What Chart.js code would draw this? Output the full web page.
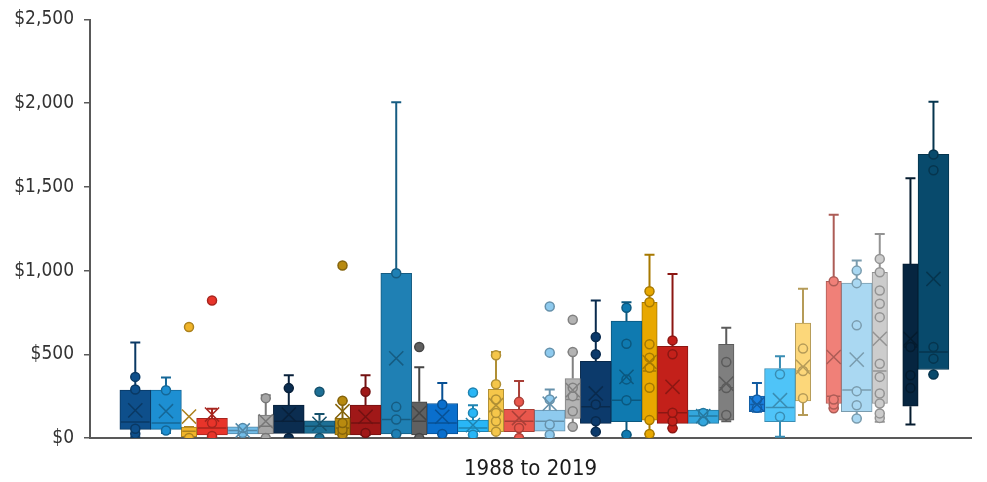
<!DOCTYPE html>
<html lang="en">
<head>
<meta charset="UTF-8">
<title>1988 to 2019</title>
<script src="https://cdn.jsdelivr.net/npm/chart.js"></script>
<style>
    body {
        margin: 0;
        background: #fff;
    }

    .wrap {
        width: 987px;
        height: 482px;
    }
</style>
</head>
<body>
<div class="wrap"><canvas id="boxChart"></canvas></div>
<script>
// one category on the x axis, y ticks in dollars
var categories = ['1988 to 2019'];
var yTicks = [0, 500, 1000, 1500, 2000, 2500];

// box summaries, one entry per series
var mins    = [5, 30, 0, 10, 24, 0, 0, 0, 18, 18, 24, 0, 24, 20, 38, 0, 0, 67, 38, 20, 24, 58, 87, 100, 157, 8, 137, 177, 117, 97, 81, 379];
var q1s     = [52, 52, 8, 18, 24, 24, 28, 28, 18, 18, 24, 18, 24, 38, 38, 38, 41, 117, 87, 97, 107, 87, 87, 107, 157, 97, 222, 206, 157, 206, 190, 409];
var medians = [95, 90, 40, 60, 45, 70, 100, 70, 60, 90, 111, 100, 90, 60, 160, 100, 100, 230, 186, 226, 400, 151, 131, 300, 200, 182, 400, 250, 286, 400, 544, 514];
var q3s     = [286, 286, 65, 117, 67, 137, 196, 103, 119, 196, 984, 216, 206, 107, 290, 171, 167, 355, 458, 698, 811, 548, 167, 560, 250, 415, 686, 936, 925, 990, 1040, 1694];
var maxs    = [570, 361, 65, 175, 67, 256, 375, 143, 222, 375, 2006, 423, 329, 196, 514, 341, 290, 514, 821, 811, 1095, 980, 167, 659, 329, 488, 891, 1333, 1060, 1218, 1552, 2008];
var means   = [165, 160, 128, 140, 45, 100, 140, 85, 160, 127, 476, 149, 127, 77, 196, 119, 205, 286, 266, 365, 454, 306, 131, 325, 200, 226, 425, 484, 468, 593, 593, 950];
var points  = [
    [25, 55, 290, 365], [45, 285], [0, 663], [12, 89, 821], [30, 60], [0, 238],
    [0, 298], [0, 276], [20, 50, 90, 222, 1030], [30, 276], [24, 111, 186, 984], [0, 544],
    [24, 200], [20, 150, 272], [38, 100, 150, 230, 321, 494], [0, 60, 216], [20, 80, 230, 510, 786], [67, 160, 250, 300, 514, 706],
    [38, 100, 200, 500, 603], [20, 226, 350, 563, 778], [24, 107, 300, 420, 480, 560, 811, 877], [58, 100, 151, 500, 583], [100, 150], [137, 298, 454],
    [180, 230], [127, 381], [238, 400, 534], [177, 200, 230, 936], [117, 196, 280, 673, 925, 1000], [120, 147, 206, 266, 365, 444, 722, 802, 881, 990, 1070],
    [298, 375, 544], [379, 474, 544, 1599, 1694]
];

// look of each box: colour and how many slots wide it is
var colors = ['#0e4f8b', '#1d8fd2', '#f0b429', '#e8342a', '#73bde8', '#a5a5a5',
    '#0b2d50', '#1d6f95', '#b88a0f', '#a01818', '#1f80b4', '#606060',
    '#0a6fcd', '#29b6f6', '#f5c64a', '#e9574c', '#8ecaee', '#b3b3b3',
    '#0c3a6b', '#0f7ab0', '#e8a800', '#c3201a', '#33a6dd', '#7f7f7f',
    '#1a80e0', '#4fc4f8', '#fcd77a', '#f08078', '#aad8f2', '#cccccc',
    '#062540', '#084a6c'];
var slotSpans = [2, 2, 1, 2, 2, 1, 2, 2, 1, 2, 2, 1, 2, 2, 1, 2, 2, 1, 2, 2, 1, 2, 2, 1,
    1, 2, 1, 1, 2, 1, 1, 2];
var gapBefore = [24, 27, 30];

var xMin = -1.95, xMax = 55.45;
var slotPx = 885 / (xMax - xMin);
var font = "'DejaVu Sans Condensed', 'Liberation Sans', sans-serif";

function shade(hex, f) {
    var n = parseInt(hex.slice(1), 16);
    var r = Math.round((n >> 16) * f), g = Math.round(((n >> 8) & 255) * f), b = Math.round((n & 255) * f);
    return 'rgb(' + r + ',' + g + ',' + b + ')';
}

var datasets = [];
var slot = 0;
for (var i = 0; i < mins.length; i++) {
    if (gapBefore.indexOf(i) >= 0) slot += 1;
    var c = slot + slotSpans[i] / 2;
    slot += slotSpans[i];
    var col = colors[i];
    var dark = shade(col, 0.72);
    var w = slotSpans[i] * slotPx;

    datasets.push({
        type: 'bar', label: 'Series ' + (i + 1),
        data: [{x: c, y: [q1s[i], q3s[i]]}],
        backgroundColor: col, borderColor: dark, borderWidth: 1, borderSkipped: false,
        barThickness: w, grouped: false, order: 3
    });
    // whiskers with caps
    datasets.push({
        type: 'line', data: [{x: c, y: q3s[i]}, {x: c, y: maxs[i]}],
        borderColor: dark, borderWidth: 2, pointStyle: 'line', pointRadius: [0, 5],
        pointBorderColor: dark, pointBorderWidth: 2, order: 4
    });
    datasets.push({
        type: 'line', data: [{x: c, y: q1s[i]}, {x: c, y: mins[i]}],
        borderColor: dark, borderWidth: 2, pointStyle: 'line', pointRadius: [0, 5],
        pointBorderColor: dark, pointBorderWidth: 2, order: 4
    });
    // median line
    datasets.push({
        type: 'scatter', data: [{x: c, y: medians[i]}],
        pointStyle: 'line', pointRadius: w / 2 - 1, pointBorderColor: dark, pointBorderWidth: 1.5, order: 2
    });
    // data points
    datasets.push({
        type: 'scatter', data: points[i].map(function (v) { return {x: c, y: v}; }),
        pointStyle: 'circle', pointRadius: 4.5, pointBackgroundColor: col,
        pointBorderColor: dark, pointBorderWidth: 1.5, order: 1
    });
    // mean marker
    datasets.push({
        type: 'scatter', data: [{x: c, y: means[i]}],
        pointStyle: 'crossRot', pointRadius: 10, pointBorderColor: dark, pointBorderWidth: 1.5, order: 0
    });
}

new Chart(document.getElementById('boxChart'), {
    type: 'bar',
    data: {datasets: datasets},
    options: {
        responsive: true,
        maintainAspectRatio: false,
        animation: false,
        layout: {padding: {top: 18, right: 12, bottom: 0, left: 0}},
        plugins: {legend: {display: false}, tooltip: {enabled: false}},
        scales: {
            x: {
                type: 'linear', min: xMin, max: xMax, offset: false,
                ticks: {display: false},
                grid: {display: false},
                border: {display: true, color: '#595959', width: 2},
                title: {display: true, text: categories[0], color: '#1a1a1a',
                    font: {family: font, size: 22}, padding: {top: 18, bottom: 0}},
                afterFit: function (s) { s.height = 44; }
            },
            y: {
                min: 0, max: 2500,
                afterBuildTicks: function (s) { s.ticks = yTicks.map(function (v) { return {value: v}; }); },
                ticks: {
                    color: '#333', padding: 10,
                    font: {family: font, size: 19, lineHeight: 1},
                    callback: function (v) { return '$' + v.toLocaleString('en-US'); }
                },
                grid: {drawOnChartArea: false, drawTicks: true, tickLength: 6, color: '#595959', lineWidth: 1.5},
                border: {display: true, color: '#595959', width: 2},
                afterFit: function (s) { s.width = 90; }
            }
        }
    }
});
</script>
</body>
</html>
